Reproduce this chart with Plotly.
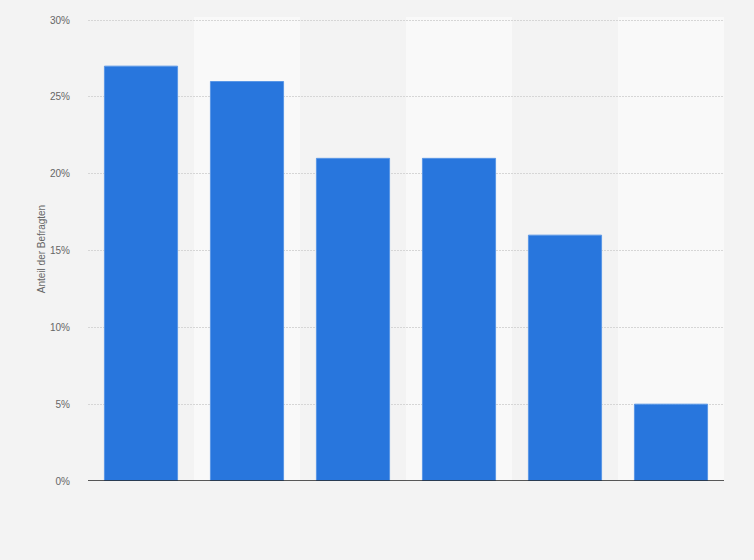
import plotly.graph_objects as go

categories = ["Kategorie 1", "Kategorie 2", "Kategorie 3", "Kategorie 4", "Kategorie 5", "Kategorie 6"]
values = [27, 26, 21, 21, 16, 5]
tick_vals = [0, 5, 10, 15, 20, 25, 30]
tick_text = ["0%", "5%", "10%", "15%", "20%", "25%", "30%"]

fig = go.Figure()
fig.add_trace(go.Bar(
    x=categories, y=values,
    marker=dict(color="#2876dd", line=dict(color="#5a97e6", width=1)),
    width=0.69,
    hoverinfo="skip",
))

shapes = []
for i in range(len(categories)):
    if i % 2 == 1:
        shapes.append(dict(type="rect", xref="x", yref="paper",
                           x0=i - 0.5, x1=i + 0.5, y0=0, y1=1,
                           fillcolor="#f9f9f9", line=dict(width=0), layer="below"))

fig.update_layout(
    width=754, height=560,
    margin=dict(l=88, r=30, t=17, b=79),
    paper_bgcolor="#f3f3f3",
    plot_bgcolor="#f3f3f3",
    showlegend=False,
    shapes=shapes,
    font=dict(family="Liberation Sans, Arial, sans-serif", color="#666666"),
    xaxis=dict(showticklabels=False, showgrid=False, zeroline=False,
               range=[-0.5, len(categories) - 0.5], ticks="", showline=False),
    yaxis=dict(range=[0, 30.2], tickvals=tick_vals, ticktext=tick_text,
               tickfont=dict(size=10, color="#666666"),
               showgrid=True, gridcolor="#d6d6d6", griddash="2px,1px", gridwidth=1,
               zeroline=False, showline=False,
               ticks="outside", ticklen=15, tickcolor="rgba(0,0,0,0)",
               title=dict(text="Anteil der Befragten", font=dict(size=10, color="#666666"), standoff=2)),
)
fig.add_shape(type="line", xref="paper", yref="y", x0=0, x1=1, y0=0, y1=0,
              line=dict(color="#222222", width=1.3), layer="above")

fig.write_html("out.html", config={"displayModeBar": False},
               post_script="document.body.style.margin='0';document.body.style.background='#f3f3f3';")
